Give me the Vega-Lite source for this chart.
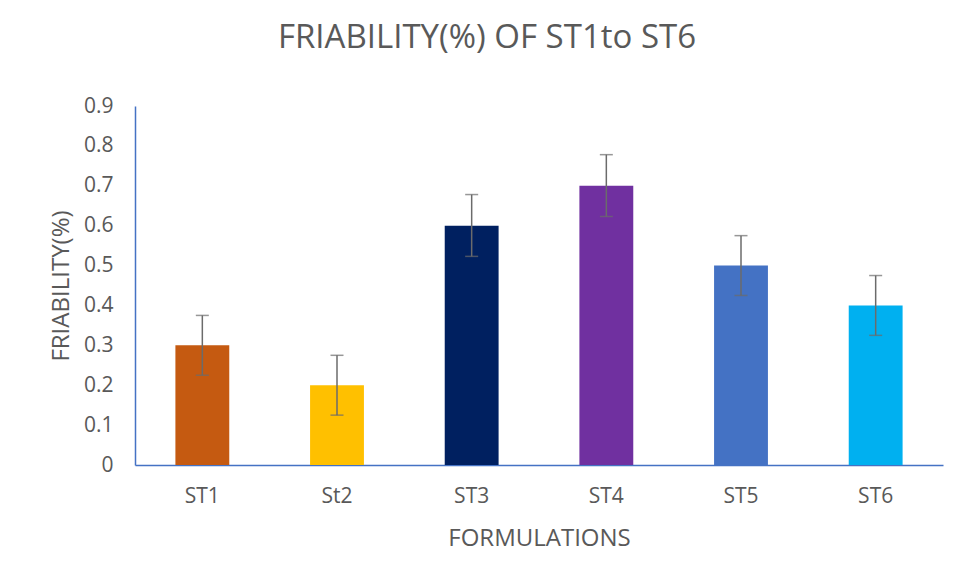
{
  "$schema": "https://vega.github.io/schema/vega-lite/v6.json",
  "width": 808,
  "height": 359,
  "autosize": {"type": "none"},
  "padding": {"left": 135, "top": 106, "right": 17, "bottom": 116},
  "background": "white",
  "title": {
    "text": "FRIABILITY(%) OF ST1to ST6",
    "font": "Open Sans",
    "fontSize": 33,
    "fontWeight": "normal",
    "color": "#595959",
    "anchor": "middle",
    "dx": -52,
    "offset": 40
  },
  "data": {
    "values": [
      {"formulation": "ST1", "friability": 0.3, "lo": 0.225, "hi": 0.375},
      {"formulation": "St2", "friability": 0.2, "lo": 0.125, "hi": 0.275},
      {"formulation": "ST3", "friability": 0.6, "lo": 0.523, "hi": 0.678},
      {"formulation": "ST4", "friability": 0.7, "lo": 0.623, "hi": 0.778},
      {"formulation": "ST5", "friability": 0.5, "lo": 0.425, "hi": 0.575},
      {"formulation": "ST6", "friability": 0.4, "lo": 0.325, "hi": 0.475}
    ]
  },
  "encoding": {
    "x": {
      "field": "formulation",
      "type": "nominal",
      "sort": null,
      "scale": {"paddingInner": 0.6, "paddingOuter": 0.3},
      "axis": {
        "title": "FORMULATIONS",
        "labelAngle": 0,
        "domainColor": "#4472C4",
        "domainWidth": 1.5,
        "ticks": false,
        "labelPadding": 20,
        "titlePadding": 20
      }
    }
  },
  "layer": [
    {
      "mark": {"type": "bar"},
      "encoding": {
        "y": {
          "field": "friability",
          "type": "quantitative",
          "scale": {"domain": [0, 0.9]},
          "axis": {
            "title": "FRIABILITY(%)",
            "values": [0, 0.1, 0.2, 0.3, 0.4, 0.5, 0.6, 0.7, 0.8, 0.9],
            "format": "~g",
            "labelOverlap": false,
            "grid": false,
            "ticks": false,
            "domainColor": "#4472C4",
            "domainWidth": 1.5,
            "labelPadding": 22,
            "titlePadding": 10
          }
        },
        "color": {
          "field": "formulation",
          "type": "nominal",
          "sort": null,
          "legend": null,
          "scale": {
            "domain": ["ST1", "St2", "ST3", "ST4", "ST5", "ST6"],
            "range": ["#C55A11", "#FFC000", "#002060", "#7030A0", "#4472C4", "#00B0F0"]
          }
        }
      }
    },
    {
      "mark": {"type": "rule", "color": "#6b6b6b", "strokeWidth": 1.5},
      "encoding": {
        "y": {
          "field": "lo",
          "type": "quantitative",
          "axis": {
            "title": "FRIABILITY(%)",
            "values": [0, 0.1, 0.2, 0.3, 0.4, 0.5, 0.6, 0.7, 0.8, 0.9],
            "format": "~g",
            "labelOverlap": false,
            "grid": false,
            "ticks": false,
            "domainColor": "#4472C4",
            "domainWidth": 1.5,
            "labelPadding": 22,
            "titlePadding": 10
          }
        },
        "y2": {"field": "hi"}
      }
    },
    {
      "mark": {"type": "tick", "color": "#6b6b6b", "size": 13, "thickness": 1.5, "orient": "horizontal"},
      "encoding": {
        "y": {
          "field": "lo",
          "type": "quantitative",
          "axis": {
            "title": "FRIABILITY(%)",
            "values": [0, 0.1, 0.2, 0.3, 0.4, 0.5, 0.6, 0.7, 0.8, 0.9],
            "format": "~g",
            "labelOverlap": false,
            "grid": false,
            "ticks": false,
            "domainColor": "#4472C4",
            "domainWidth": 1.5,
            "labelPadding": 22,
            "titlePadding": 10
          }
        }
      }
    },
    {
      "mark": {"type": "tick", "color": "#6b6b6b", "size": 13, "thickness": 1.5, "orient": "horizontal"},
      "encoding": {
        "y": {
          "field": "hi",
          "type": "quantitative",
          "axis": {
            "title": "FRIABILITY(%)",
            "values": [0, 0.1, 0.2, 0.3, 0.4, 0.5, 0.6, 0.7, 0.8, 0.9],
            "format": "~g",
            "labelOverlap": false,
            "grid": false,
            "ticks": false,
            "domainColor": "#4472C4",
            "domainWidth": 1.5,
            "labelPadding": 22,
            "titlePadding": 10
          }
        }
      }
    }
  ],
  "config": {
    "view": {"stroke": null},
    "axis": {
      "labelFont": "Open Sans",
      "labelFontSize": 21,
      "labelColor": "#595959",
      "titleFont": "Open Sans",
      "titleFontSize": 24,
      "titleFontWeight": "normal",
      "titleColor": "#595959"
    }
  }
}
